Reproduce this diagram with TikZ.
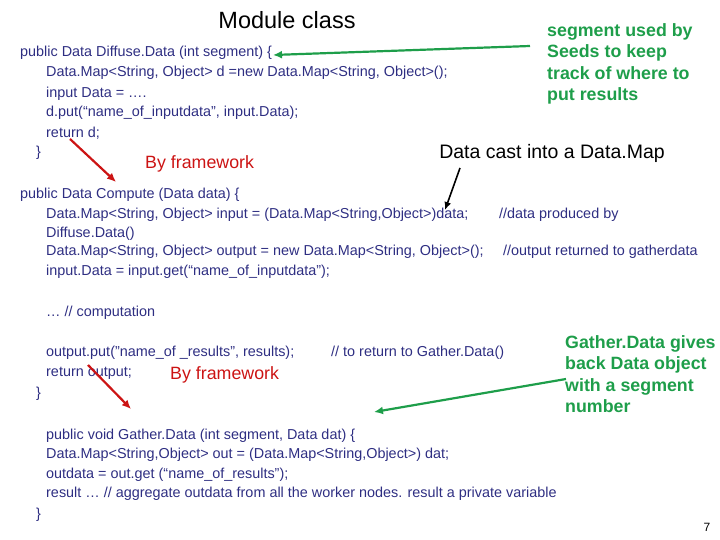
\documentclass[tikz,border=0pt]{standalone}
\usepackage{fontspec}
\setmainfont{Liberation Sans}
\usetikzlibrary{arrows.meta}
\definecolor{navy}{HTML}{2E2E82}
\definecolor{grn}{HTML}{1E9E4A}
\definecolor{rd}{HTML}{CC1414}
\begin{document}
\begin{tikzpicture}[x=1pt,y=-1pt,
 code/.style={anchor=west,inner sep=0,text=navy,font=\fontsize{14.4}{16}\selectfont},
 gnote/.style={anchor=north west,inner sep=0,text=grn,align=left,font=\bfseries\fontsize{17.8}{21.5}\selectfont},
 rnote/.style={anchor=west,inner sep=0,text=rd,font=\fontsize{17.8}{20}\selectfont},
 garr/.style={draw=grn,line width=2.2pt,-{Latex[length=9pt,width=8pt]}},
 rarr/.style={draw=rd,line width=2.2pt,-{Latex[length=9pt,width=8pt]}},
 barr/.style={draw=black,line width=1.6pt,-{Latex[length=8pt,width=7pt]}}]
\useasboundingbox (0,0) rectangle (720,540);
\node[anchor=center,inner sep=0,font=\fontsize{23.5}{26}\selectfont] (title) at (287,20) {Module class};
\node[code] (l1) at (20,53) {public Data Diffuse.Data (int segment) \{};
\node[code] (l2) at (46,73) {Data.Map<String, Object> d =new Data.Map<String, Object>();};
\node[code] (l3) at (46,94) {input Data = \dots.};
\node[code] (l4) at (46,113) {d.put(“name\_of\_inputdata", input.Data);};
\node[code] (l5) at (46,133) {return d;};
\node[code] (l6) at (36,153) {\}};
\node[code] (c1) at (20,195) {public Data Compute (Data data) \{};
\node[code] (c2) at (46,215) {Data.Map<String, Object> input = (Data.Map<String,Object>)data;};
\node[code] (c2c) at (499,215) {//data produced by};
\node[code] (c3) at (46,234) {Diffuse.Data()};
\node[code] (c4) at (46,252) {Data.Map<String, Object> output = new Data.Map<String, Object>();};
\node[code] (c4c) at (503,252) {//output returned to gatherdata};
\node[code] (c5) at (46,272) {input.Data = input.get(“name\_of\_inputdata”);};
\node[code] (c6) at (46,313) {\dots{} // computation};
\node[code] (c7) at (46,353) {output.put("name\_of \_results", results);};
\node[code] (c7c) at (331,353) {// to return to Gather.Data()};
\node[code] (c8) at (46,373) {return output;};
\node[code] (c9) at (36,394) {\}};
\node[code] (g1) at (46,436) {public void Gather.Data (int segment, Data dat) \{};
\node[code] (g2) at (46,455) {Data.Map<String,Object> out = (Data.Map<String,Object>) dat;};
\node[code] (g3) at (46,475) {outdata = out.get (“name\_of\_results”);};
\node[code] (g4) at (46,494) {result \dots{}  // aggregate outdata from all the worker nodes. result a private variable};
\node[code] (g5) at (36,515) {\}};
\node[anchor=center,inner sep=0,font=\fontsize{12}{12}\selectfont] (pg) at (707,527) {7};
\node[gnote] (seg) at (547,23) {segment used by\\Seeds to keep\\track of where to\\put results};
\node[gnote] (gat) at (565,335) {Gather.Data gives\\back Data object\\with a segment\\number};
\node[anchor=center,inner sep=0,font=\fontsize{19.5}{22}\selectfont] (cast) at (552,153) {Data cast into a Data.Map};
\node[rnote] (bf1) at (145,164) {By framework};
\node[rnote] (bf2) at (170,375) {By framework};
\coordinate (a1s) at (530,46); \coordinate (a1e) at (273,55);
\coordinate (a2s) at (70,139); \coordinate (a2e) at (116,182);
\coordinate (a3s) at (460,168); \coordinate (a3e) at (445,210);
\coordinate (a4s) at (88,365); \coordinate (a4e) at (131,409);
\coordinate (a5s) at (566,379); \coordinate (a5e) at (374,412);
\draw[garr] (a1s) -- (a1e);
\draw[rarr] (a2s) -- (a2e);
\draw[barr] (a3s) -- (a3e);
\draw[rarr] (a4s) -- (a4e);
\draw[garr] (a5s) -- (a5e);
\end{tikzpicture}
\end{document}
